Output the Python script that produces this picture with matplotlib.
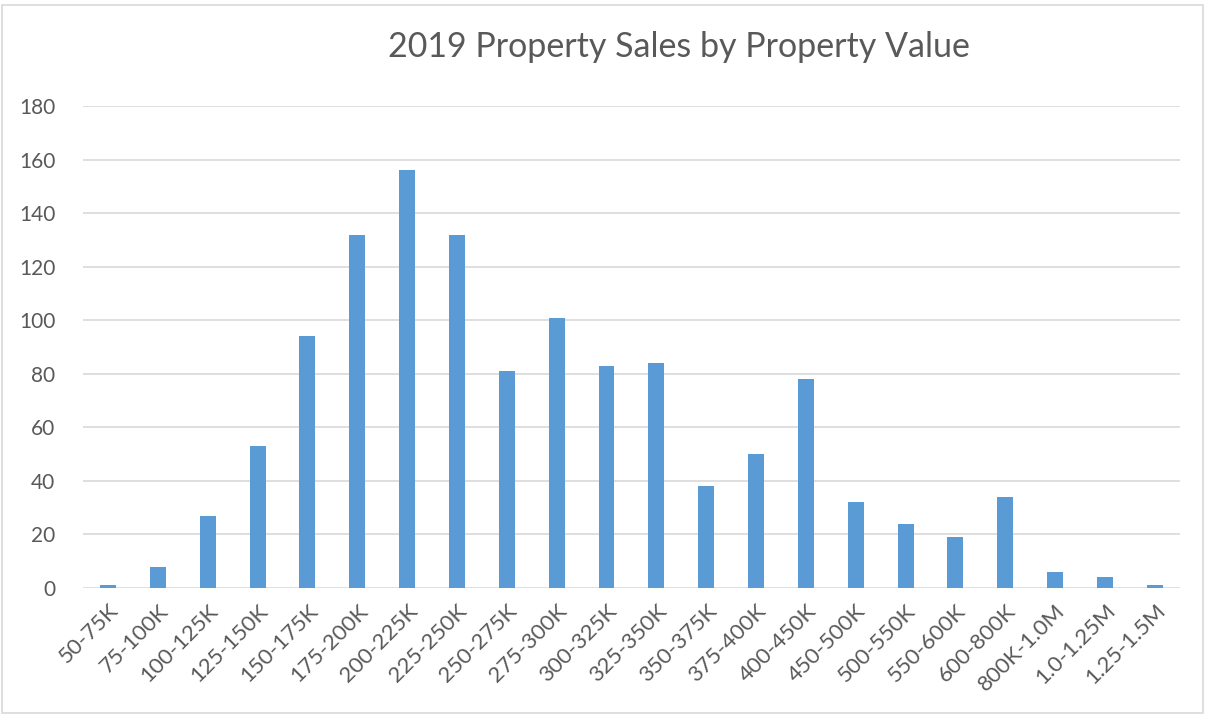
import matplotlib
matplotlib.use("Agg")
import matplotlib.pyplot as plt
from matplotlib.patches import Rectangle

categories = [
    "50-75K", "75-100K", "100-125K", "125-150K", "150-175K", "175-200K",
    "200-225K", "225-250K", "250-275K", "275-300K", "300-325K", "325-350K",
    "350-375K", "375-400K", "400-450K", "450-500K", "500-550K", "550-600K",
    "600-800K", "800K-1.0M", "1.0-1.25M", "1.25-1.5M",
]
sales = [1, 8, 27, 53, 94, 132, 156, 132, 81, 101, 83, 84,
         38, 50, 78, 32, 24, 19, 34, 6, 4, 1]
y_ticks = [0, 20, 40, 60, 80, 100, 120, 140, 160, 180]

plt.rcParams["font.family"] = ["Lato", "DejaVu Sans"]
text_color = "#595959"

fig = plt.figure(figsize=(12.05, 7.14), dpi=100)
ax = fig.add_axes([0.069, 0.1765, 0.910, 0.675])

x = list(range(len(categories)))
ax.bar(x, sales, width=0.32, color="#5B9BD5", zorder=3)

ax.set_xlim(-0.5, len(categories) - 0.5)
ax.set_ylim(0, 180)
ax.set_yticks(y_ticks)
ax.set_xticks(x)
ax.set_xticklabels(categories, rotation=45, ha="right", rotation_mode="anchor")
ax.tick_params(axis="both", length=0, colors=text_color, labelsize=15)
ax.tick_params(axis="x", pad=9, labelsize=16)
ax.tick_params(axis="y", pad=20)
ax.grid(axis="y", color="#D9D9D9", linewidth=1.2, zorder=0)
for s in ax.spines.values():
    s.set_visible(False)

fig.text(0.5635, 0.934, "2019 Property Sales by Property Value", ha="center",
         va="center", fontsize=24.5, color=text_color)

# outer chart border
fig.patches.append(Rectangle((0.002, 0.002), 0.996, 0.991, transform=fig.transFigure,
                             fill=False, edgecolor="#D9D9D9", linewidth=1.2))

fig.savefig("out.png", dpi=100)
